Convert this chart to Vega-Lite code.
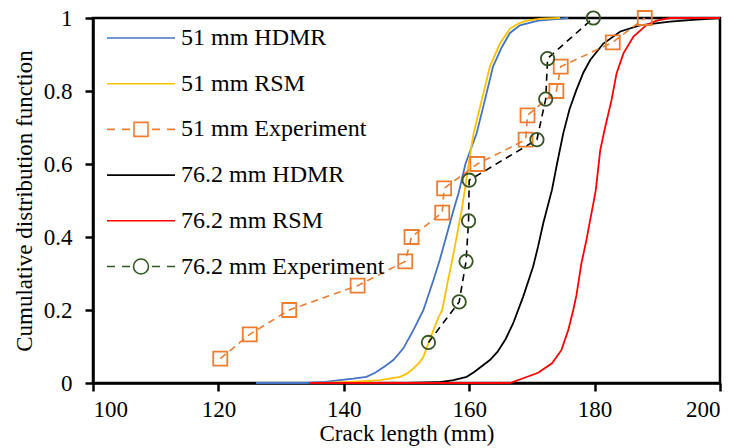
{
  "$schema": "https://vega.github.io/schema/vega-lite/v6.json",
  "width": 627,
  "height": 365,
  "autosize": {"type": "none"},
  "padding": {"left": 93, "top": 18, "right": 22, "bottom": 65},
  "background": "white",
  "config": {
    "view": {"stroke": "black", "strokeWidth": 2.5},
    "axis": {
      "grid": false,
      "labelFont": "Liberation Serif",
      "labelFontSize": 23,
      "labelColor": "black",
      "titleFont": "Liberation Serif",
      "titleFontSize": 23,
      "titleFontWeight": "normal",
      "titleColor": "black",
      "domainColor": "black",
      "domainWidth": 2.5,
      "tickColor": "black",
      "tickWidth": 2.5,
      "tickSize": 8
    }
  },
  "data": {
    "values": [
      {"series": "51 mm HDMR", "x": 126, "y": 0},
      {"series": "51 mm HDMR", "x": 134, "y": 0},
      {"series": "51 mm HDMR", "x": 137, "y": 0.003},
      {"series": "51 mm HDMR", "x": 139.4, "y": 0.008},
      {"series": "51 mm HDMR", "x": 141.5, "y": 0.012},
      {"series": "51 mm HDMR", "x": 143.6, "y": 0.017},
      {"series": "51 mm HDMR", "x": 145, "y": 0.028},
      {"series": "51 mm HDMR", "x": 146.5, "y": 0.045},
      {"series": "51 mm HDMR", "x": 147.9, "y": 0.063},
      {"series": "51 mm HDMR", "x": 149.5, "y": 0.095},
      {"series": "51 mm HDMR", "x": 151.1, "y": 0.145},
      {"series": "51 mm HDMR", "x": 152.7, "y": 0.2},
      {"series": "51 mm HDMR", "x": 154.3, "y": 0.282},
      {"series": "51 mm HDMR", "x": 155.3, "y": 0.337},
      {"series": "51 mm HDMR", "x": 156.4, "y": 0.405},
      {"series": "51 mm HDMR", "x": 157.5, "y": 0.474},
      {"series": "51 mm HDMR", "x": 158.3, "y": 0.52},
      {"series": "51 mm HDMR", "x": 159.4, "y": 0.6},
      {"series": "51 mm HDMR", "x": 161.2, "y": 0.685},
      {"series": "51 mm HDMR", "x": 162.5, "y": 0.775},
      {"series": "51 mm HDMR", "x": 163.8, "y": 0.867},
      {"series": "51 mm HDMR", "x": 165.2, "y": 0.92},
      {"series": "51 mm HDMR", "x": 166.5, "y": 0.959},
      {"series": "51 mm HDMR", "x": 168.1, "y": 0.98},
      {"series": "51 mm HDMR", "x": 171, "y": 0.993},
      {"series": "51 mm HDMR", "x": 175.8, "y": 1.0},

      {"series": "51 mm RSM", "x": 136.7, "y": 0},
      {"series": "51 mm RSM", "x": 141, "y": 0.003},
      {"series": "51 mm RSM", "x": 145.8, "y": 0.008},
      {"series": "51 mm RSM", "x": 149, "y": 0.017},
      {"series": "51 mm RSM", "x": 150.2, "y": 0.027},
      {"series": "51 mm RSM", "x": 151.1, "y": 0.04},
      {"series": "51 mm RSM", "x": 152, "y": 0.055},
      {"series": "51 mm RSM", "x": 152.7, "y": 0.072},
      {"series": "51 mm RSM", "x": 153.5, "y": 0.109},
      {"series": "51 mm RSM", "x": 154.4, "y": 0.15},
      {"series": "51 mm RSM", "x": 155.1, "y": 0.18},
      {"series": "51 mm RSM", "x": 155.7, "y": 0.2},
      {"series": "51 mm RSM", "x": 156.6, "y": 0.28},
      {"series": "51 mm RSM", "x": 157.3, "y": 0.337},
      {"series": "51 mm RSM", "x": 158.1, "y": 0.41},
      {"series": "51 mm RSM", "x": 158.8, "y": 0.474},
      {"series": "51 mm RSM", "x": 159.4, "y": 0.54},
      {"series": "51 mm RSM", "x": 159.9, "y": 0.6},
      {"series": "51 mm RSM", "x": 160.7, "y": 0.684},
      {"series": "51 mm RSM", "x": 162, "y": 0.775},
      {"series": "51 mm RSM", "x": 163.3, "y": 0.867},
      {"series": "51 mm RSM", "x": 164.9, "y": 0.93},
      {"series": "51 mm RSM", "x": 166.5, "y": 0.971},
      {"series": "51 mm RSM", "x": 168, "y": 0.986},
      {"series": "51 mm RSM", "x": 169.2, "y": 0.993},
      {"series": "51 mm RSM", "x": 171.5, "y": 0.998},
      {"series": "51 mm RSM", "x": 174.5, "y": 1.0},

      {"series": "76.2 mm HDMR", "x": 150, "y": 0},
      {"series": "76.2 mm HDMR", "x": 155, "y": 0.002},
      {"series": "76.2 mm HDMR", "x": 157.5, "y": 0.008},
      {"series": "76.2 mm HDMR", "x": 159.6, "y": 0.017},
      {"series": "76.2 mm HDMR", "x": 160.8, "y": 0.03},
      {"series": "76.2 mm HDMR", "x": 162, "y": 0.046},
      {"series": "76.2 mm HDMR", "x": 163.3, "y": 0.063},
      {"series": "76.2 mm HDMR", "x": 164.5, "y": 0.085},
      {"series": "76.2 mm HDMR", "x": 165.8, "y": 0.12},
      {"series": "76.2 mm HDMR", "x": 167, "y": 0.163},
      {"series": "76.2 mm HDMR", "x": 168.6, "y": 0.236},
      {"series": "76.2 mm HDMR", "x": 170.2, "y": 0.319},
      {"series": "76.2 mm HDMR", "x": 171, "y": 0.375},
      {"series": "76.2 mm HDMR", "x": 171.8, "y": 0.437},
      {"series": "76.2 mm HDMR", "x": 173.2, "y": 0.529},
      {"series": "76.2 mm HDMR", "x": 174, "y": 0.6},
      {"series": "76.2 mm HDMR", "x": 175, "y": 0.684},
      {"series": "76.2 mm HDMR", "x": 176, "y": 0.75},
      {"series": "76.2 mm HDMR", "x": 177.1, "y": 0.803},
      {"series": "76.2 mm HDMR", "x": 178.2, "y": 0.85},
      {"series": "76.2 mm HDMR", "x": 179.3, "y": 0.885},
      {"series": "76.2 mm HDMR", "x": 181.4, "y": 0.93},
      {"series": "76.2 mm HDMR", "x": 184.1, "y": 0.963},
      {"series": "76.2 mm HDMR", "x": 187.2, "y": 0.98},
      {"series": "76.2 mm HDMR", "x": 192, "y": 0.99},
      {"series": "76.2 mm HDMR", "x": 195.7, "y": 0.995},
      {"series": "76.2 mm HDMR", "x": 200, "y": 1.0},

      {"series": "76.2 mm RSM", "x": 134.6, "y": 0},
      {"series": "76.2 mm RSM", "x": 166.5, "y": 0},
      {"series": "76.2 mm RSM", "x": 168.6, "y": 0.013},
      {"series": "76.2 mm RSM", "x": 171, "y": 0.028},
      {"series": "76.2 mm RSM", "x": 173.2, "y": 0.054},
      {"series": "76.2 mm RSM", "x": 174.7, "y": 0.09},
      {"series": "76.2 mm RSM", "x": 175.8, "y": 0.145},
      {"series": "76.2 mm RSM", "x": 176.6, "y": 0.2},
      {"series": "76.2 mm RSM", "x": 177.1, "y": 0.24},
      {"series": "76.2 mm RSM", "x": 177.4, "y": 0.273},
      {"series": "76.2 mm RSM", "x": 177.9, "y": 0.328},
      {"series": "76.2 mm RSM", "x": 178.7, "y": 0.392},
      {"series": "76.2 mm RSM", "x": 179.3, "y": 0.447},
      {"series": "76.2 mm RSM", "x": 179.8, "y": 0.492},
      {"series": "76.2 mm RSM", "x": 180.2, "y": 0.53},
      {"series": "76.2 mm RSM", "x": 180.9, "y": 0.638},
      {"series": "76.2 mm RSM", "x": 181.7, "y": 0.702},
      {"series": "76.2 mm RSM", "x": 182.7, "y": 0.775},
      {"series": "76.2 mm RSM", "x": 183.5, "y": 0.848},
      {"series": "76.2 mm RSM", "x": 184.6, "y": 0.903},
      {"series": "76.2 mm RSM", "x": 186.2, "y": 0.949},
      {"series": "76.2 mm RSM", "x": 188.3, "y": 0.981},
      {"series": "76.2 mm RSM", "x": 189.9, "y": 0.993},
      {"series": "76.2 mm RSM", "x": 192, "y": 1.0},
      {"series": "76.2 mm RSM", "x": 200, "y": 1.0},

      {"series": "51 mm Experiment", "x": 120.3, "y": 0.0667},
      {"series": "51 mm Experiment", "x": 125.0, "y": 0.1333},
      {"series": "51 mm Experiment", "x": 131.3, "y": 0.2},
      {"series": "51 mm Experiment", "x": 142.2, "y": 0.2667},
      {"series": "51 mm Experiment", "x": 149.8, "y": 0.3333},
      {"series": "51 mm Experiment", "x": 150.8, "y": 0.4},
      {"series": "51 mm Experiment", "x": 155.7, "y": 0.4667},
      {"series": "51 mm Experiment", "x": 156.0, "y": 0.5333},
      {"series": "51 mm Experiment", "x": 161.3, "y": 0.6},
      {"series": "51 mm Experiment", "x": 169.0, "y": 0.6667},
      {"series": "51 mm Experiment", "x": 169.3, "y": 0.7333},
      {"series": "51 mm Experiment", "x": 173.9, "y": 0.8},
      {"series": "51 mm Experiment", "x": 174.6, "y": 0.8667},
      {"series": "51 mm Experiment", "x": 182.9, "y": 0.9333},
      {"series": "51 mm Experiment", "x": 188.0, "y": 1.0},

      {"series": "76.2 mm Experiment", "x": 153.5, "y": 0.1111},
      {"series": "76.2 mm Experiment", "x": 158.4, "y": 0.2222},
      {"series": "76.2 mm Experiment", "x": 159.5, "y": 0.3333},
      {"series": "76.2 mm Experiment", "x": 159.9, "y": 0.4444},
      {"series": "76.2 mm Experiment", "x": 160.0, "y": 0.5556},
      {"series": "76.2 mm Experiment", "x": 170.8, "y": 0.6667},
      {"series": "76.2 mm Experiment", "x": 172.2, "y": 0.7778},
      {"series": "76.2 mm Experiment", "x": 172.5, "y": 0.8889},
      {"series": "76.2 mm Experiment", "x": 179.8, "y": 1.0}
    ]
  },
  "encoding": {
    "x": {
      "field": "x", "type": "quantitative",
      "scale": {"domain": [100, 200], "nice": false},
      "axis": {"title": "Crack length (mm)", "values": [100, 120, 140, 160, 180, 200], "format": "d", "labelPadding": 7, "titlePadding": 1}
    },
    "y": {
      "field": "y", "type": "quantitative",
      "scale": {"domain": [0, 1], "nice": false},
      "axis": {"title": "Cumulative distribution function", "values": [0, 0.2, 0.4, 0.6, 0.8, 1], "format": ".1~f", "labelPadding": 13, "titlePadding": 7}
    }
  },
  "layer": [
    {
      "transform": [{"filter": "datum.series === '51 mm Experiment' || datum.series === '76.2 mm Experiment'"}],
      "mark": {"type": "point", "opacity": 0, "filled": false, "strokeWidth": 1.6},
      "encoding": {
        "color": {
          "field": "series", "type": "nominal",
          "scale": {
            "domain": ["51 mm HDMR", "51 mm RSM", "51 mm Experiment", "76.2 mm HDMR", "76.2 mm RSM", "76.2 mm Experiment"],
            "range": ["#4472C4", "#FFC000", "#ED7D31", "#000000", "#FF0000", "#2F5A1E"]
          },
          "legend": {"title": null, "orient": "none", "legendX": 7, "legendY": 8, "symbolSize": 400, "symbolOffset": 29, "labelOffset": 28, "rowPadding": 21.7, "labelFont": "Liberation Serif", "labelFontSize": 24, "labelColor": "black", "symbolOpacity": 1, "symbolStrokeWidth": 1.6, "padding": 0, "labelLimit": 0}
        },
        "shape": {
          "field": "series", "type": "nominal",
          "scale": {
            "domain": ["51 mm HDMR", "51 mm RSM", "51 mm Experiment", "76.2 mm HDMR", "76.2 mm RSM", "76.2 mm Experiment"],
            "range": [
              "M-3.4,0H3.4",
              "M-3.4,0H3.4",
              "M-3.4,0H-2.6M-1.9,0H-1.1M-0.7,-0.7H0.7V0.7H-0.7ZM1.1,0H1.9M2.6,0H3.4",
              "M-3.4,0H3.4",
              "M-3.4,0H3.4",
              "M-3.4,0H-2.6M-1.9,0H-1.1M0.75,0A0.75,0.75 0 1 1 -0.75,0A0.75,0.75 0 1 1 0.75,0ZM1.1,0H1.9M2.6,0H3.4"
            ]
          },
          "legend": {"title": null, "orient": "none", "legendX": 7, "legendY": 8, "symbolSize": 400, "symbolOffset": 29, "labelOffset": 28, "rowPadding": 21.7, "labelFont": "Liberation Serif", "labelFontSize": 24, "labelColor": "black", "symbolOpacity": 1, "symbolStrokeWidth": 1.6, "padding": 0, "labelLimit": 0}
        }
      }
    },
    {
      "transform": [{"filter": "datum.series === '51 mm HDMR'"}],
      "mark": {"type": "line", "color": "#4472C4", "strokeWidth": 1.8},
      "encoding": {}
    },
    {
      "transform": [{"filter": "datum.series === '51 mm RSM'"}],
      "mark": {"type": "line", "color": "#FFC000", "strokeWidth": 1.8},
      "encoding": {}
    },
    {
      "transform": [{"filter": "datum.series === '76.2 mm HDMR'"}],
      "mark": {"type": "line", "color": "#000000", "strokeWidth": 1.8},
      "encoding": {}
    },
    {
      "transform": [{"filter": "datum.series === '76.2 mm RSM'"}],
      "mark": {"type": "line", "color": "#FF0000", "strokeWidth": 1.8},
      "encoding": {}
    },
    {
      "transform": [{"filter": "datum.series === '51 mm Experiment'"}],
      "mark": {"type": "line", "color": "#ED7D31", "strokeWidth": 1.6, "strokeDash": [7, 5]},
      "encoding": {"order": {"field": "y", "type": "quantitative"}}
    },
    {
      "transform": [{"filter": "datum.series === '76.2 mm Experiment'"}],
      "mark": {"type": "line", "color": "#000000", "strokeWidth": 1.6, "strokeDash": [7, 5]},
      "encoding": {"order": {"field": "y", "type": "quantitative"}}
    },
    {
      "transform": [{"filter": "datum.series === '51 mm Experiment'"}],
      "mark": {"type": "point", "shape": "square", "size": 196, "filled": false, "color": "#ED7D31", "strokeWidth": 1.8, "opacity": 1},
      "encoding": {}
    },
    {
      "transform": [{"filter": "datum.series === '76.2 mm Experiment'"}],
      "mark": {"type": "point", "shape": "circle", "size": 180, "filled": false, "color": "#375623", "strokeWidth": 1.8, "opacity": 1},
      "encoding": {}
    }
  ]
}
